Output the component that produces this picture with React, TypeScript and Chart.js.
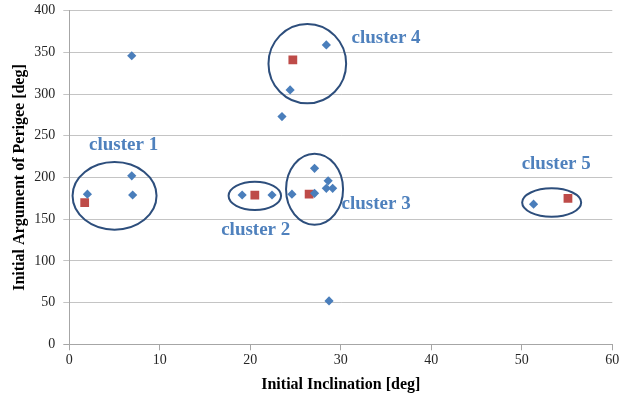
import React, { useEffect, useRef } from "react";
import { Chart, registerables } from "chart.js";

Chart.register(...registerables);

// Blue diamonds (objects)
const blueX = [2.0, 6.9, 7.0, 6.9, 19.1, 22.4, 23.5, 24.4, 24.6, 27.1, 27.1, 28.4, 28.6, 28.4, 29.1, 28.7, 51.3];
const blueY = [180, 202, 179, 346, 179, 179, 273, 305, 180, 181, 211, 359, 196, 187, 187, 52, 168];

// Red squares (cluster centres)
const redX = [1.7, 20.5, 24.7, 26.5, 55.1];
const redY = [170, 179, 341, 180, 175];

// Cluster annotations (data units)
const clusterNames = ["cluster 1", "cluster 2", "cluster 3", "cluster 4", "cluster 5"];
const clusterCx = [5.0, 20.5, 27.1, 26.3, 53.3];
const clusterCy = [178, 178, 186, 336.5, 170];
const clusterRx = [4.64, 2.9, 3.15, 4.29, 3.26];
const clusterRy = [40.5, 17, 42.6, 47.6, 17];
const labelX = [6.0, 20.6, 33.9, 35.0, 53.8];
const labelY = [239, 137, 168, 367, 216];

const xTicks = [0, 10, 20, 30, 40, 50, 60];
const yTicks = [0, 50, 100, 150, 200, 250, 300, 350, 400];

const clusterPlugin = {
  id: "clusters",
  afterDatasetsDraw(chart: any) {
    const { ctx, scales } = chart;
    const xs = scales.x;
    const ys = scales.y;
    ctx.save();
    ctx.strokeStyle = "#2D4E7C";
    ctx.lineWidth = 2;
    for (let i = 0; i < clusterNames.length; i++) {
      const cx = xs.getPixelForValue(clusterCx[i]);
      const cy = ys.getPixelForValue(clusterCy[i]);
      const rx = Math.abs(xs.getPixelForValue(clusterCx[i] + clusterRx[i]) - cx);
      const ry = Math.abs(ys.getPixelForValue(clusterCy[i] + clusterRy[i]) - cy);
      ctx.beginPath();
      ctx.ellipse(cx, cy, rx, ry, 0, 0, Math.PI * 2);
      ctx.stroke();
    }
    ctx.fillStyle = "#4F81BD";
    ctx.font = "bold 19px 'Liberation Serif', serif";
    ctx.textAlign = "center";
    ctx.textBaseline = "middle";
    for (let i = 0; i < clusterNames.length; i++) {
      ctx.fillText(clusterNames[i], xs.getPixelForValue(labelX[i]), ys.getPixelForValue(labelY[i]));
    }
    ctx.restore();
  },
};

const bgPlugin = {
  id: "bg",
  beforeDraw(chart: any) {
    const { ctx, width, height } = chart;
    ctx.save();
    ctx.fillStyle = "#ffffff";
    ctx.fillRect(0, 0, width, height);
    ctx.restore();
  },
};

export default function App() {
  const ref = useRef<HTMLCanvasElement>(null);
  useEffect(() => {
    document.body.style.margin = "0";
    const canvas = ref.current;
    if (!canvas) return;
    const chart = new Chart(canvas, {
      type: "scatter",
      data: {
        datasets: [
          {
            label: "objects",
            data: blueX.map((x, i) => ({ x, y: blueY[i] })),
            pointStyle: "rectRot",
            pointRadius: 4.6,
            backgroundColor: "#4A7EBB",
            borderColor: "#4A7EBB",
            borderWidth: 0,
          },
          {
            label: "centres",
            data: redX.map((x, i) => ({ x, y: redY[i] })),
            pointStyle: "rect",
            pointRadius: 6.2,
            backgroundColor: "#BE4B48",
            borderColor: "#BE4B48",
            borderWidth: 0,
          },
        ],
      },
      options: {
        animation: false,
        responsive: false,
        maintainAspectRatio: false,
        layout: { padding: { top: 10.7, right: 20.7, left: 0, bottom: 0 } },
        plugins: {
          legend: { display: false },
          tooltip: { enabled: false },
        },
        scales: {
          x: {
            type: "linear",
            min: 0,
            max: 60,
            afterBuildTicks: (s: any) => {
              s.ticks = xTicks.map((v) => ({ value: v }));
            },
            afterFit: (s: any) => {
              s.height = 397 - 344.3;
              s.paddingLeft = 0;
              s.paddingRight = 0;
            },
            grid: {
              drawOnChartArea: false,
              drawTicks: true,
              tickLength: 6,
              color: "#A6A6A6",
            },
            border: { color: "#A6A6A6", width: 1 },
            ticks: {
              padding: 2,
              color: "#262626",
              font: { family: "'Liberation Serif', serif", size: 14 },
            },
            title: {
              display: true,
              text: "Initial Inclination [deg]",
              color: "#000000",
              font: { family: "'Liberation Serif', serif", size: 16, weight: "bold" },
              padding: { top: 4, bottom: 3 },
            },
          },
          y: {
            type: "linear",
            min: 0,
            max: 400,
            afterBuildTicks: (s: any) => {
              s.ticks = yTicks.map((v) => ({ value: v }));
            },
            afterFit: (s: any) => {
              s.width = 69.3;
              s.paddingTop = 0;
              s.paddingBottom = 0;
            },
            grid: {
              drawOnChartArea: true,
              drawTicks: true,
              tickLength: 6,
              color: (c: any) => (c.tick && c.tick.value === 0 ? "#A6A6A6" : "#C4C4C4"),
            },
            border: { color: "#A6A6A6", width: 1 },
            ticks: {
              padding: 8,
              color: "#262626",
              font: { family: "'Liberation Serif', serif", size: 14 },
            },
            title: {
              display: true,
              text: "Initial Argument of Perigee [deg]",
              color: "#000000",
              font: { family: "'Liberation Serif', serif", size: 16, weight: "bold" },
              padding: { top: 10, bottom: 4 },
            },
          },
        },
      },
      plugins: [bgPlugin, clusterPlugin],
    });
    return () => chart.destroy();
  }, []);
  return (
    <div style={{ position: "absolute", left: 0, top: 0, width: 633, height: 397 }}>
      <canvas ref={ref} width={633} height={397} style={{ width: 633, height: 397, display: "block" }} />
    </div>
  );
}
